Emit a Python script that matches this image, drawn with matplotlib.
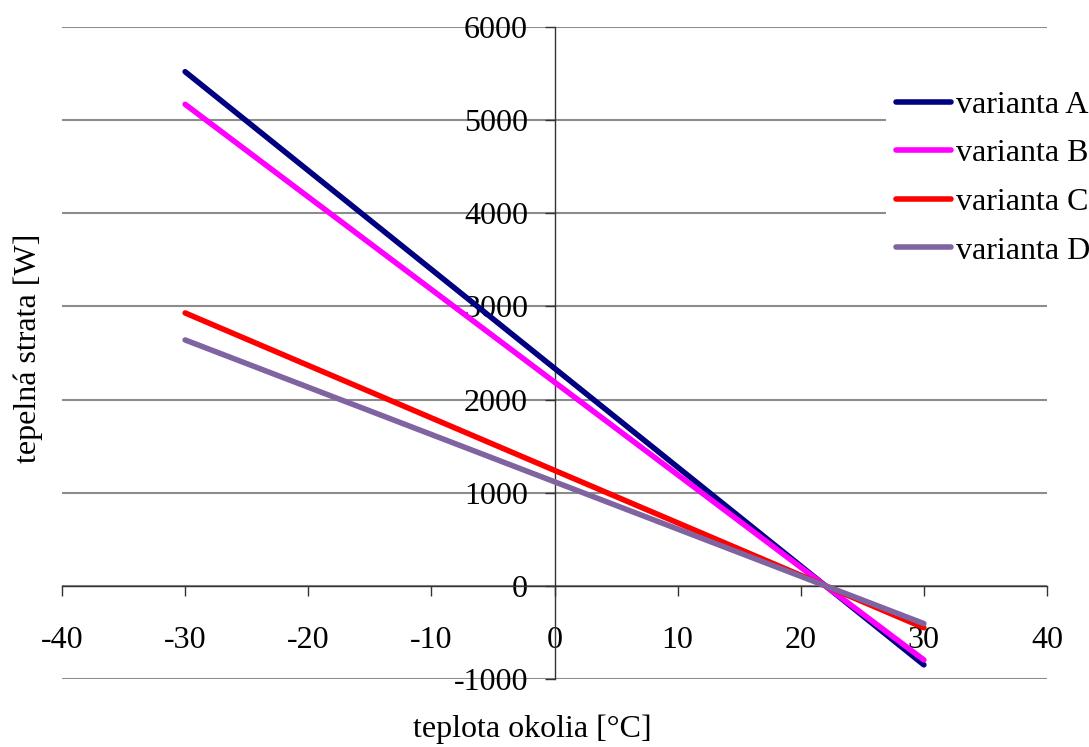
import matplotlib
matplotlib.use("Agg")
import matplotlib.pyplot as plt

# Heat loss of the building variants versus outdoor temperature
temperature = [-30, 30]
series_names = ["varianta A", "varianta B", "varianta C", "varianta D"]
loss_a = [5520, -848]
loss_b = [5170, -795]
loss_c = [2930, -450]
loss_d = [2640, -405]
series_values = [loss_a, loss_b, loss_c, loss_d]
series_colors = ["#000080", "#FF00FF", "#FF0000", "#8064A2"]

x_ticks = [-40, -30, -20, -10, 0, 10, 20, 30, 40]
y_ticks = [-1000, 0, 1000, 2000, 3000, 4000, 5000, 6000]

plt.rcParams["font.family"] = ["Liberation Serif", "DejaVu Serif"]
FS = 23

fig = plt.figure(figsize=(10.89, 7.47), dpi=100)
ax = fig.add_axes([62 / 1089, 1 - 679 / 747, (1047 - 62) / 1089, (679 - 27) / 747])

for name, vals, col in zip(series_names, series_values, series_colors):
    ax.plot(temperature, vals, color=col, lw=4.0, solid_capstyle="round",
            label=name, zorder=3)

ax.set_xlim(-40, 40)
ax.set_ylim(-1000, 6000)
ax.set_xticks(x_ticks, [str(v) for v in x_ticks])
ax.set_yticks(y_ticks, [str(v) for v in y_ticks])

# axes crossing at the origin
ax.spines["left"].set_position(("data", 0))
ax.spines["bottom"].set_position(("data", 0))
ax.spines["top"].set_visible(False)
ax.spines["right"].set_visible(False)
for s in ("left", "bottom"):
    ax.spines[s].set_color("#333333")
    ax.spines[s].set_linewidth(1.0)
    ax.spines[s].set_zorder(2)

ax.tick_params(axis="x", direction="out", length=7, width=1, color="#333333",
               pad=22, labelsize=FS)
ax.tick_params(axis="y", direction="out", length=7, width=1, color="#333333",
               pad=12, labelsize=FS)

ax.yaxis.grid(True, color="#8c8c8c", lw=1.5)
ax.set_axisbelow(True)

fig.text(532 / 1089, 3 / 747, "teplota okolia [°C]", fontsize=FS,
         ha="center", va="bottom")
fig.text(28 / 1089, 1 - 348 / 747, "tepelná strata [W]", fontsize=FS,
         ha="center", va="center", rotation=90)

leg = ax.legend(loc="upper left", bbox_to_anchor=(886 / 1089, 1 - 81 / 747),
                bbox_transform=fig.transFigure, fontsize=FS, frameon=True,
                fancybox=False, handlelength=1.75, handletextpad=0.15,
                labelspacing=0.6, borderpad=0.3, borderaxespad=0)
leg.get_frame().set_facecolor("white")
leg.get_frame().set_edgecolor("none")
leg.get_frame().set_alpha(1)

fig.savefig("out.png", dpi=100, facecolor="white")
